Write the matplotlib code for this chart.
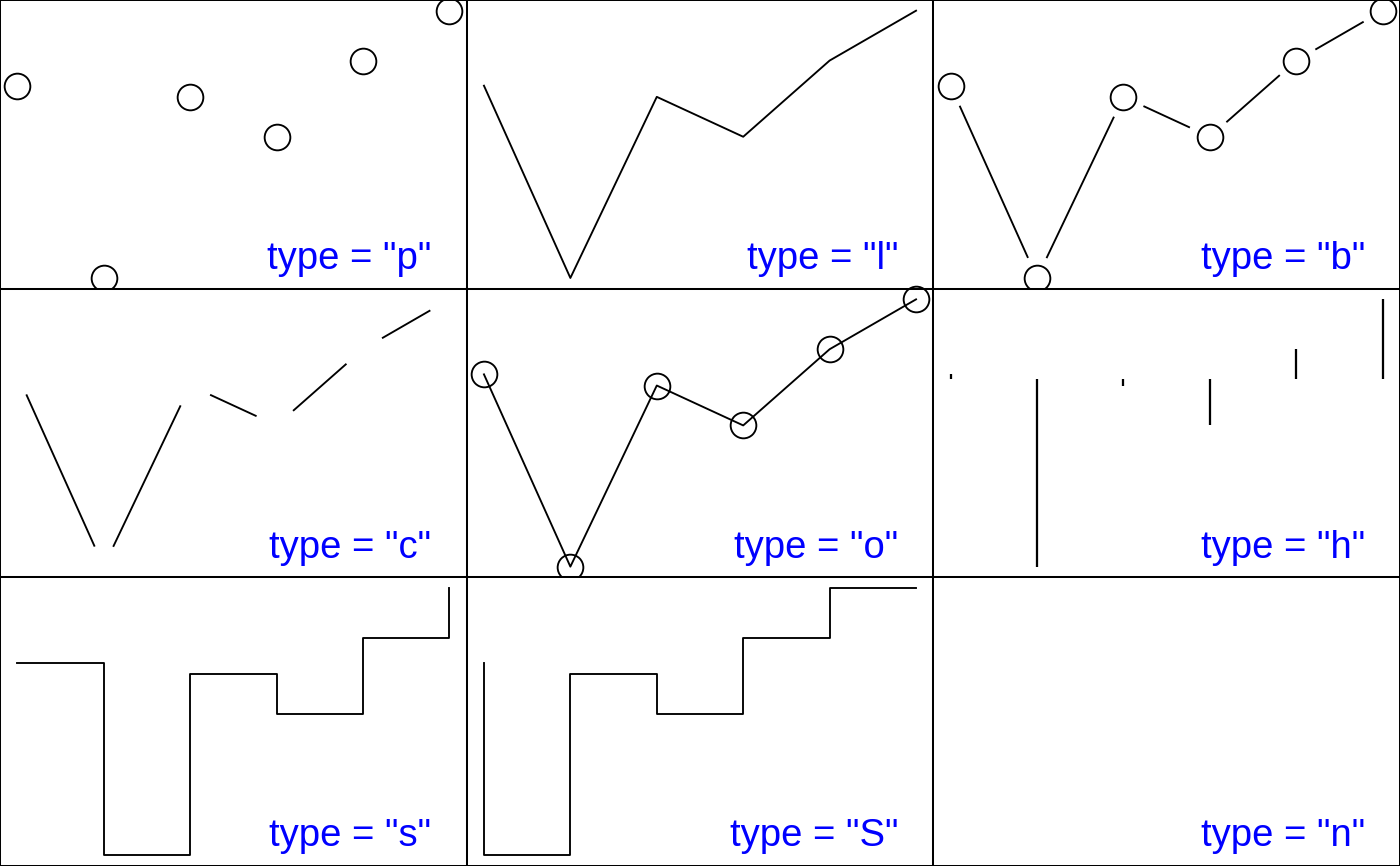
import numpy as np
import matplotlib
matplotlib.use("Agg")
import matplotlib.pyplot as plt

x = [1, 2, 3, 4, 5, 6]
y = [0.06, -2.35, -0.08, -0.58, 0.375, 1.0]
types = ["p", "l", "b", "c", "o", "h", "s", "S", "n"]

plt.rcParams['font.family'] = ['Liberation Sans', 'DejaVu Sans']

fig = plt.figure(figsize=(14, 8.66), dpi=100)
gs = fig.add_gridspec(3, 3, left=0, right=1, top=1, bottom=0, wspace=0, hspace=0)

LW = 1.35
MS = 18.5
GAP = 22  # pixels


def gap_segments(ax, xs, ys):
    pts = ax.transData.transform(np.column_stack([xs, ys]))
    inv = ax.transData.inverted()
    for i in range(len(pts) - 1):
        p0, p1 = pts[i], pts[i + 1]
        d = p1 - p0
        L = np.hypot(*d)
        if L <= 2 * GAP:
            continue
        u = d / L
        a = inv.transform(p0 + u * GAP)
        b = inv.transform(p1 - u * GAP)
        ax.plot([a[0], b[0]], [a[1], b[1]], color='black', lw=LW, solid_capstyle='butt')


rng = max(y) - min(y)
for k, t in enumerate(types):
    ax = fig.add_subplot(gs[k // 3, k % 3])
    ax.set_xlim(1 - 0.04 * 5, 6 + 0.04 * 5)
    ax.set_ylim(min(y) - 0.04 * rng, max(y) + 0.04 * rng)
    ax.set_xticks([])
    ax.set_yticks([])
    for s in ax.spines.values():
        s.set_linewidth(1.45)
    if t == "p":
        ax.plot(x, y, 'o', mfc='none', mec='black', ms=MS, mew=LW, clip_on=False)
    elif t == "l":
        ax.plot(x, y, color='black', lw=LW)
    elif t == "b":
        ax.plot(x, y, 'o', mfc='none', mec='black', ms=MS, mew=LW, clip_on=False)
        gap_segments(ax, x, y)
    elif t == "c":
        gap_segments(ax, x, y)
    elif t == "o":
        ax.plot(x, y, '-o', color='black', mfc='none', mec='black', ms=MS, mew=LW, lw=LW, clip_on=False)
    elif t == "h":
        ax.vlines(x, 0, y, color='black', lw=LW * 1.2)
    elif t == "s":
        ax.plot(x, y, color='black', lw=LW, drawstyle='steps-post')
    elif t == "S":
        ax.plot(x, y, color='black', lw=LW, drawstyle='steps-pre')
    ax.text(1 - 35 / 466, 19.5 / 288, 'type = "%s"' % t, transform=ax.transAxes,
            ha='right', va='baseline', color='blue', fontsize=27.5)

fig.savefig("out.png", dpi=100)
